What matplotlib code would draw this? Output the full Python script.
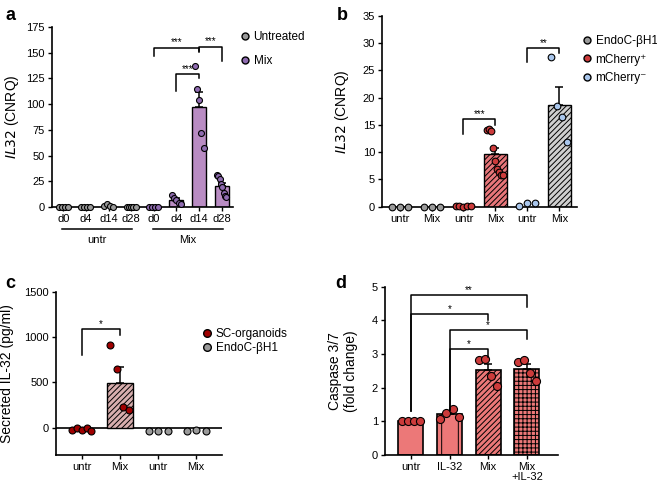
import numpy as np
import matplotlib
matplotlib.use("Agg")
import matplotlib.pyplot as plt
from matplotlib.lines import Line2D

plt.rcParams['font.family'] = ['Liberation Sans', 'DejaVu Sans']
plt.rcParams['font.size'] = 8
plt.rcParams['hatch.linewidth'] = 0.7
plt.rcParams['axes.linewidth'] = 1.2

# ---- panel a data ----
a_labels = ['d0', 'd4', 'd14', 'd28', 'd0', 'd4', 'd14', 'd28']
a_groups = ['untr'] * 4 + ['Mix'] * 4
a_points = [
    [0.2, 0.1, 0.3, 0.2],
    [0.2, 0.3, 0.1, 0.2],
    [0.5, 2.5, 1.0, 0.3],
    [0.2, 0.3, 0.1, 0.4, 0.2],
    [0.3, 0.2, 0.4, 0.3],
    [12, 9, 7, 4, 3],
    [137, 115, 104, 72, 57],
    [31, 30, 27, 22, 19, 14, 11, 10],
]

# ---- panel b data ----
b_labels = ['untr', 'Mix', 'untr', 'Mix', 'untr', 'Mix']
b_series = ['EndoC-\u03b2H1', 'EndoC-\u03b2H1', 'mCherry\u207a', 'mCherry\u207a',
            'mCherry\u207b', 'mCherry\u207b']
b_points = [
    [0.0, 0.0, 0.0],
    [0.0, 0.0, 0.0],
    [0.1, 0.2, 0.0, 0.1, 0.1],
    [14.0, 14.3, 13.8, 10.8, 8.3, 7.0, 6.3, 5.8, 5.9],
    [0.2, 0.7, 0.7],
    [27.5, 18.5, 16.5, 11.8],
]

# ---- panel c data ----
c_labels = ['untr', 'Mix', 'untr', 'Mix']
c_series = ['SC-organoids', 'SC-organoids', 'EndoC-\u03b2H1', 'EndoC-\u03b2H1']
c_points = [
    [-25, 0, -20, 0, -30],
    [910, 650, 230, 200],
    [-40, -30, -40],
    [-40, -20, -30],
]

# ---- panel d data ----
d_labels = ['untr', 'IL-32', 'Mix', 'Mix\n+IL-32']
d_points = [
    [1.0, 1.0, 1.0, 1.0],
    [1.08, 1.25, 1.38, 1.12],
    [2.83, 2.85, 2.35, 2.05],
    [2.75, 2.82, 2.45, 2.2],
]

GRAY = '#9a9a9a'
PURPLE_PT = '#8f6bb0'
PURPLE_BAR = '#b98cc3'
RED_PT = '#cc3b3b'
RED_BAR = '#e8767a'
BLUE_PT = '#a9c6ec'
GRAY_BAR = '#cfcfcf'
DARKRED = '#a00000'
PINK_BAR = '#d8aeae'
SALMON = '#ec7878'

LEG_FS = 8.5


def mean_sem(v):
    v = np.asarray(v, float)
    return v.mean(), v.std(ddof=1) / np.sqrt(len(v))


def draw_group(ax, x, pts, color, bar_color=None, hatch=None, width=0.65,
               ms=4.5, spread=0.22, show_bar=True, bar_lw=1.0):
    m, s = mean_sem(pts)
    if show_bar:
        ax.bar(x, m, width=width, color=bar_color, edgecolor='black',
               linewidth=bar_lw, hatch=hatch, zorder=2)
        ax.errorbar(x, m, yerr=[[0], [s]], color='black', capsize=3,
                    elinewidth=1.1, capthick=1.1, zorder=3)
    n = len(pts)
    offs = np.linspace(-spread, spread, n) if n > 1 else np.zeros(1)
    ax.plot(x + offs, pts, 'o', ms=ms, mfc=color, mec='black', mew=0.8,
            zorder=4, clip_on=False, linestyle='none')


def bracket(ax, x1, x2, top, l1, l2, text, fs=7):
    ax.plot([x1, x1, x2, x2], [l1, top, top, l2], color='black', lw=1.1,
            zorder=5, clip_on=False)
    ax.text((x1 + x2) / 2, top, text, ha='center', va='bottom', fontsize=fs)


def style(ax, lx):
    for sp in ['top', 'right']:
        ax.spines[sp].set_visible(False)
    ax.tick_params(axis='both', length=3, width=1.0, pad=2, labelsize=8)
    ax.yaxis.set_label_coords(lx, 0.5)


def legend(ax, items, ms, x, y, spacing):
    handles = [Line2D([], [], marker='o', ls='none', mfc=c, mec='black', ms=ms, label=k)
               for k, c in items]
    ax.legend(handles=handles, loc='upper left', bbox_to_anchor=(x, y), frameon=False,
              borderpad=0, borderaxespad=0, handletextpad=0.35, labelspacing=spacing,
              fontsize=LEG_FS, handlelength=0.8)


fig = plt.figure(figsize=(6.57, 4.87), dpi=100)

# ================= panel a =================
ax = fig.add_axes([0.0791, 0.575, 0.2755, 0.3696])
for i, pts in enumerate(a_points):
    if a_groups[i] == 'untr':
        draw_group(ax, i, pts, GRAY, show_bar=False, spread=0.2, ms=4.3)
    else:
        draw_group(ax, i, pts, PURPLE_PT, bar_color=PURPLE_BAR, width=0.62,
                   ms=4.3, spread=0.2, show_bar=(i > 4))
        if i == 4:
            ax.bar(i, np.mean(pts), width=0.62, color=PURPLE_BAR, edgecolor='black')
ax.set_xlim(-0.5, 7.5)
ax.set_ylim(0, 175)
ax.set_yticks(np.arange(0, 176, 25))
ax.set_xticks(range(8))
ax.set_xticklabels(a_labels)
ax.set_ylabel('$\\it{IL32}$ (CNRQ)', fontsize=10)
style(ax, -0.171)
bracket(ax, 4, 6, 155, 147, 151, '***')
bracket(ax, 6, 7, 156, 152, 142, '***')
bracket(ax, 5, 6, 129, 113, 125, '***')
# group underlines
for lo, hi, lab in [(0, 3, 'untr'), (4, 7, 'Mix')]:
    ax.plot([lo - 0.05, hi + 0.05], [-0.122, -0.122], color='black', lw=1.1,
            transform=ax.get_xaxis_transform(), clip_on=False)
    ax.text((lo + hi) / 2, -0.183, lab, transform=ax.get_xaxis_transform(),
            ha='center', va='center', fontsize=8)
legend(ax, [('Untreated', GRAY), ('Mix', PURPLE_PT)], 5, 1.039, 0.975, 0.95)

# ================= panel b =================
ax = fig.add_axes([0.5814, 0.5756, 0.2968, 0.392])
b_cols = {'EndoC-\u03b2H1': GRAY, 'mCherry\u207a': RED_PT, 'mCherry\u207b': BLUE_PT}
b_bars = {'mCherry\u207a': RED_BAR, 'mCherry\u207b': GRAY_BAR}
for i, pts in enumerate(b_points):
    ser = b_series[i]
    if b_labels[i] == 'Mix' and ser != 'EndoC-\u03b2H1':
        draw_group(ax, i, pts, b_cols[ser], bar_color=b_bars[ser], hatch='//////',
                   width=0.7, ms=4.8, spread=0.25)
    else:
        draw_group(ax, i, pts, b_cols[ser], show_bar=False, ms=4.8, spread=0.25)
ax.set_xlim(-0.55, 5.55)
ax.set_ylim(0, 35)
ax.set_yticks(np.arange(0, 36, 5))
ax.set_xticks(range(6))
ax.set_xticklabels(b_labels)
ax.set_ylabel('$\\it{IL32}$ (CNRQ)', fontsize=10)
style(ax, -0.159)
bracket(ax, 2, 3, 16.1, 13.4, 15.0, '***')
bracket(ax, 4, 5, 29.1, 26.6, 28.2, '**')
legend(ax, list(b_cols.items()), 5, 1.026, 0.899, 0.55)

# ================= panel c =================
ax = fig.add_axes([0.0852, 0.0657, 0.2527, 0.3353])
c_cols = {'SC-organoids': DARKRED, 'EndoC-\u03b2H1': GRAY}
ax.axhline(0, color='black', lw=1.2, zorder=1)
for i, pts in enumerate(c_points):
    ser = c_series[i]
    if ser == 'SC-organoids' and c_labels[i] == 'Mix':
        draw_group(ax, i, pts, c_cols[ser], bar_color=PINK_BAR, hatch='//////',
                   width=0.66, ms=5, spread=0.25)
    else:
        draw_group(ax, i, pts, c_cols[ser], show_bar=False, ms=5, spread=0.25)
ax.set_xlim(-0.68, 3.68)
ax.set_ylim(-300, 1500)
ax.set_yticks([0, 500, 1000, 1500])
ax.set_xticks(range(4))
ax.set_xticklabels(c_labels)
ax.set_ylabel('Secreted IL-32 (pg/ml)', fontsize=10)
style(ax, -0.255)
bracket(ax, 0, 1, 1087, 797, 1020, '*')
legend(ax, list(c_cols.items()), 5.5, 0.88, 0.78, 0.2)

# ================= panel d =================
ax = fig.add_axes([0.586, 0.0657, 0.263, 0.3456])
d_hatch = [None, '|', '//////', '++++']
for i, pts in enumerate(d_points):
    draw_group(ax, i, pts, RED_PT, bar_color=SALMON, hatch=d_hatch[i],
               width=0.65, ms=5.8, spread=0.24, bar_lw=1.2)
ax.set_xlim(-0.67, 3.8)
ax.set_ylim(0, 5)
ax.set_yticks(range(6))
ax.set_xticks(range(4))
ax.set_xticklabels(d_labels, linespacing=0.95)
ax.set_ylabel('Caspase 3/7\n(fold change)', fontsize=10)
style(ax, -0.156)
bracket(ax, 0, 3, 4.75, 1.3, 4.4, '**')
bracket(ax, 0, 2, 4.19, 1.3, 4.0, '*')
bracket(ax, 1, 3, 3.71, 1.35, 3.45, '*')
bracket(ax, 1, 2, 3.15, 1.35, 2.92, '*')

# panel letters
for lab, x, y in [('a', 0.008, 0.985), ('b', 0.512, 0.985),
                  ('c', 0.008, 0.435), ('d', 0.511, 0.435)]:
    fig.text(x, y, lab, fontsize=13, fontweight='bold', va='top')

fig.savefig('out.png', dpi=100)
